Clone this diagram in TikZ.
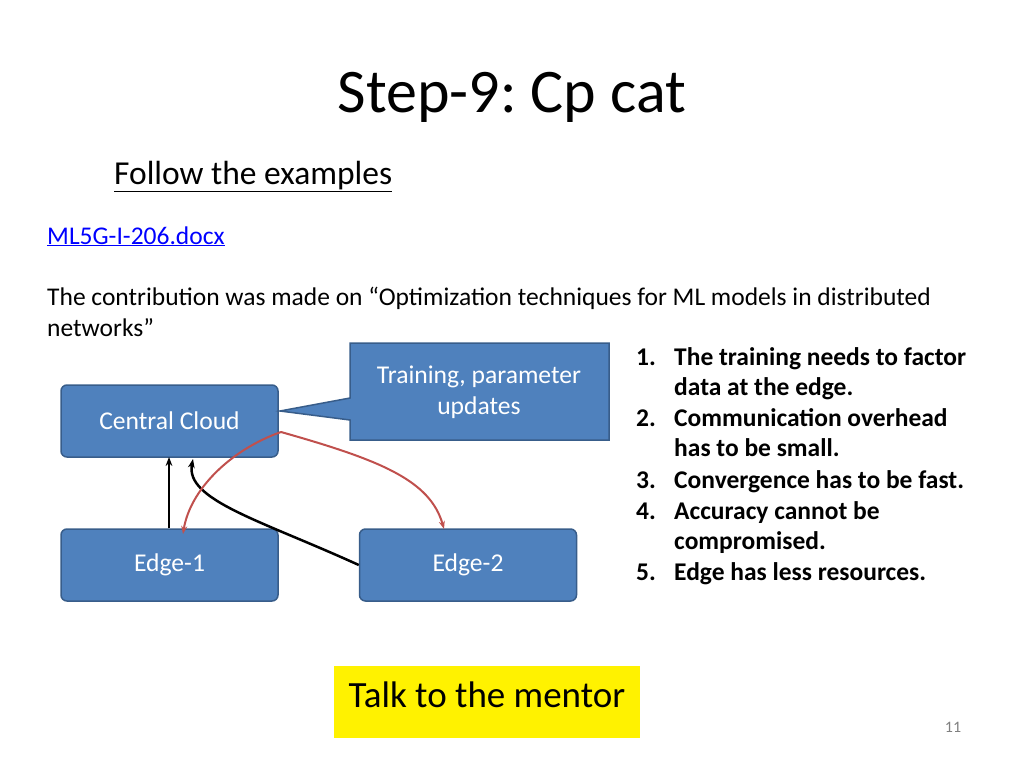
\documentclass[tikz,border=0pt]{standalone}
\usepackage{fontspec}
\setmainfont{Carlito}
\frenchspacing
\usetikzlibrary{arrows.meta}
\definecolor{boxblue}{HTML}{4F81BD}
\definecolor{boxline}{HTML}{385D8A}
\definecolor{redline}{HTML}{C0504D}
\definecolor{linkblue}{HTML}{0000FF}
\tikzset{
  box_node/.style = {rectangle, rounded corners=6pt, fill=boxblue, draw=boxline, line width=1.5pt,
                     minimum width=217pt, minimum height=72pt, text=white, font=\fontsize{25.6}{30}\selectfont},
  list_item/.style = {anchor=base west, inner sep=0pt, font=\bfseries\fontsize{25.5}{30}\selectfont},
  body_text/.style = {anchor=base west, inner sep=0pt, font=\fontsize{25.5}{30}\selectfont},
}
\begin{document}
\begin{tikzpicture}[x=1pt,y=-1pt]
    \useasboundingbox (0,0) rectangle (1024,768);
    % titles
    \node (title) at (512,97) {\fontsize{62}{66}\selectfont Step-9: Cp cat};
    \node [body_text, font=\fontsize{33.5}{36}\selectfont] (follow) at (114,184) {\underline{Follow the examples}};
    \node [body_text, text=linkblue] (link) at (47,244) {\underline{ML5G-I-206.docx}};
    \node [body_text] (contrib1) at (47,305) {The contribution was made on “Optimization techniques for ML models in distributed};
    \node [body_text] (contrib2) at (47,336) {networks”};
    % boxes
    \node [box_node] (cloud) at (169.5,421) {Central Cloud};
    \node [box_node] (edge1) at (169.5,565) {Edge-1};
    \node [box_node] (edge2) at (468,565) {Edge-2};
    \draw [fill=boxblue, draw=boxline, line width=1.5pt]
        (350,343) -- (609,343) -- (609,440) -- (350,440) -- (350,420) -- (280,411) -- (350,398) -- cycle;
    \node [text=white, align=center, font=\fontsize{25.6}{31}\selectfont] (callout) at (479,392) {Training, parameter\\updates};
    % connectors
    \draw [-{Stealth[length=9pt]}, line width=2.5pt] (edge1.north -| 169,0) -- (169,457);
    \draw [-{Stealth[length=9pt]}, line width=2.5pt] (edge2.west) .. controls (260,520) and (185,500) .. (193,459);
    \draw [-{Stealth[length=8pt]}, redline, line width=2pt] (281,432) .. controls (230,450) and (190,490) .. (183,534);
    \draw [-{Stealth[length=8pt]}, redline, line width=2pt] (281,432) .. controls (380,460) and (430,480) .. (444,529);
    % list
    \foreach \n/\txt/\y in {1./The training needs to factor/365, /data at the edge./395,
        2./Communication overhead/426, /has to be small./456, 3./Convergence has to be fast./488,
        4./Accuracy cannot be/519, /compromised./549, 5./Edge has less resources./580} {
      \node [list_item] at (636,\y) {\n};
      \node [list_item] at (674,\y) {\txt};
    }
    % mentor box
    \node [fill=yellow, minimum width=306pt, minimum height=72pt] (mentor) at (487,702) {};
    \node [font=\fontsize{37}{40}\selectfont] (mentortext) at (487,695) {Talk to the mentor};
    \node [text=gray, font=\fontsize{16}{18}\selectfont] (page) at (953,727) {11};
\end{tikzpicture}
\end{document}
